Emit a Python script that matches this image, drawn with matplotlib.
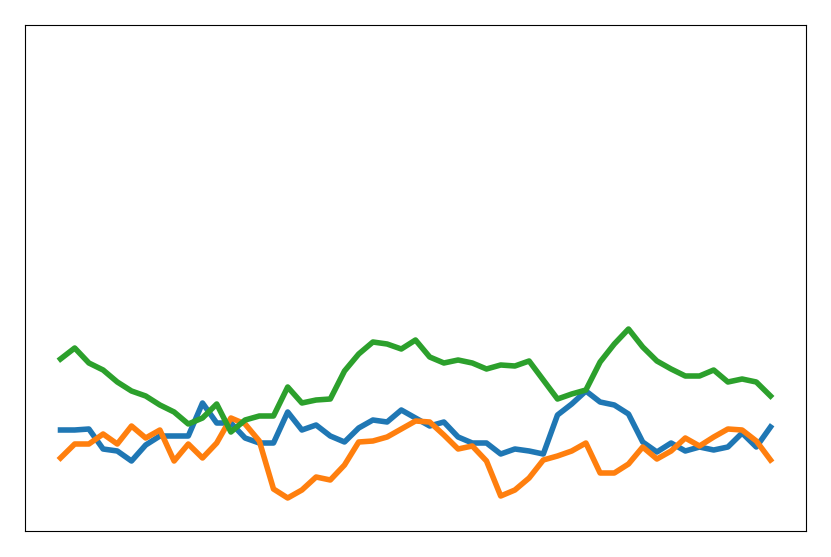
import numpy as np
import matplotlib
matplotlib.use("Agg")
import matplotlib.pyplot as plt

# three series, 51 samples each
blue = [10.1, 10.1, 10.2, 8.2, 8.0, 7.0, 8.6, 9.5, 9.5, 9.5,
        12.8, 10.8, 10.8, 9.3, 8.8, 8.8, 11.9, 10.1, 10.6, 9.5,
        8.9, 10.3, 11.1, 10.9, 12.1, 11.3, 10.5, 10.9, 9.4, 8.8,
        8.8, 7.7, 8.2, 8.0, 7.7, 11.6, 12.7, 14.0, 12.9, 12.6,
        11.7, 8.9, 7.9, 8.8, 8.0, 8.4, 8.1, 8.4, 9.8, 8.4, 10.4]
orange = [7.3, 8.7, 8.7, 9.7, 8.7, 10.5, 9.3, 10.1, 7.0, 8.7,
          7.3, 8.8, 11.3, 10.7, 9.0, 4.2, 3.3, 4.1, 5.4, 5.1,
          6.6, 8.9, 9.0, 9.4, 10.2, 11.0, 10.9, 9.6, 8.2, 8.5,
          7.0, 3.5, 4.1, 5.3, 7.1, 7.5, 8.0, 8.8, 5.8, 5.8,
          6.7, 8.4, 7.2, 8.0, 9.3, 8.5, 9.4, 10.2, 10.1, 9.0, 7.1]
green = [17.2, 18.3, 16.8, 16.1, 14.9, 14.0, 13.5, 12.6, 11.9, 10.7,
         11.3, 12.7, 9.9, 11.1, 11.5, 11.5, 14.4, 12.8, 13.1, 13.2,
         16.0, 17.7, 18.9, 18.7, 18.2, 19.1, 17.4, 16.8, 17.1, 16.8,
         16.2, 16.6, 16.5, 17.0, 15.1, 13.2, 13.7, 14.1, 16.9, 18.7,
         20.2, 18.4, 17.0, 16.2, 15.5, 15.5, 16.1, 14.9, 15.2, 14.9, 13.5]

x = np.arange(len(blue))

fig = plt.figure(figsize=(8.31, 5.57), dpi=100)
ax = fig.add_axes([25 / 831, 1 - 531 / 557, 781 / 831, 506 / 557])

for series in (blue, orange, green):
    ax.plot(x, series, linewidth=4)

ax.set_ylim(0, 50.6)
ax.set_xticks([])
ax.set_yticks([])

fig.savefig("out.png", dpi=100)
